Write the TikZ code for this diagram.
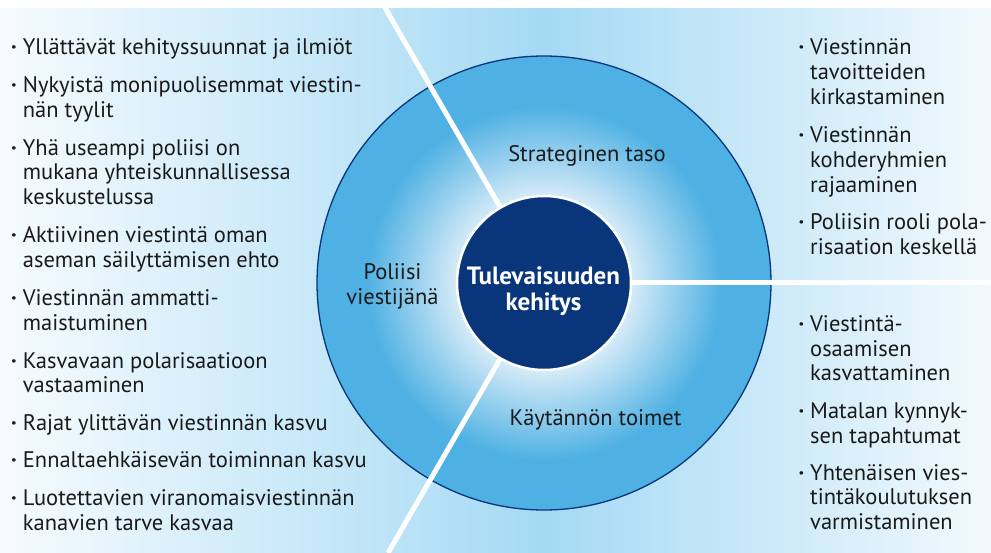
\documentclass[tikz,border=0pt]{standalone}
\usepackage{fontspec}
\setmainfont{PT Sans}
\definecolor{navy}{RGB}{9,54,122}
\definecolor{ringblue}{RGB}{79,177,227}
\definecolor{ringpale}{RGB}{214,235,248}
\definecolor{bgmid}{RGB}{165,218,244}
\definecolor{bgleft}{RGB}{246,251,254}
\definecolor{bgright}{RGB}{242,249,253}
\definecolor{ink}{RGB}{26,26,26}
\pgfdeclareradialshading{ringshade}{\pgfpoint{0bp}{0bp}}{color(0bp)=(white); color(9.6bp)=(ringpale); color(19.5bp)=(ringblue); color(25bp)=(ringblue); color(50bp)=(ringblue)}
\newcommand{\bul}{\llap{{\bfseries\textperiodcentered}\hskip 6pt}}
\begin{document}
\begin{tikzpicture}[x=1pt,y=-1pt,
  item/.style={anchor=base west, align=left, inner sep=0pt, text=ink, font=\fontsize{22.5}{24.5}\selectfont},
  itemr/.style={item, font=\fontsize{22.5}{25}\selectfont},
  ringlabel/.style={anchor=base, align=center, inner sep=0pt, text=ink, font=\fontsize{22.5}{24.5}\selectfont},
  corelabel/.style={anchor=base, align=center, inner sep=0pt, text=white, font=\bfseries\fontsize{25}{26}\selectfont},
  divider/.style={white, line width=5pt},
]
\useasboundingbox (0,0) rectangle (991,553);
\shade[left color=bgleft, right color=bgmid] (0,0) rectangle (544,553);
\shade[left color=bgmid, right color=bgright] (544,0) rectangle (991,553);
\fill[white] (0,0) rectangle (991,8.5);
\coordinate (c) at (544,283);
\coordinate (topend) at (380.5,0);
\coordinate (botend) at (388,553);
\coordinate (rightend) at (991,283);
\node[circle, minimum size=454pt, inner sep=0pt, shade, shading=ringshade, draw=navy, line width=1.3pt] (ring) at (c) {};
\node[circle, fill=navy, draw=white, line width=2.5pt, minimum size=174pt, inner sep=0pt] (core) at (c) {};
\draw[divider] (core) -- (topend);
\draw[divider] (core) -- (botend);
\draw[divider] (core) -- (rightend);
% multi-line nodes: base anchor = baseline of the last line
\node[corelabel] (coretext) at (543.5,310.5) {Tulevaisuuden\\kehitys};
\node[ringlabel] (strat) at (587,162) {Strateginen taso};
\node[ringlabel] (kayt) at (595.5,425.5) {Käytännön toimet};
\node[ringlabel] (pol) at (392.5,304.5) {Poliisi\\viestijänä};
% left column
\node[item] (l1) at (22.7,55) {\bul Yllättävät kehityssuunnat ja ilmiöt};
\node[item] (l2) at (22.7,117.5) {\bul Nykyistä monipuolisemmat viestin-\\nän tyylit};
\node[item] (l3) at (22.7,204.5) {\bul Yhä useampi poliisi on\\mukana yhteiskunnallisessa\\keskustelussa};
\node[item] (l4) at (22.7,267.5) {\bul Aktiivinen viestintä oman\\aseman säilyttämisen ehto};
\node[item] (l5) at (22.7,330.5) {\bul Viestinnän ammatti-\\maistuminen};
\node[item] (l6) at (22.7,392.5) {\bul Kasvavaan polarisaatioon\\vastaaminen};
\node[item] (l7) at (22.7,430) {\bul Rajat ylittävän viestinnän kasvu};
\node[item] (l8) at (22.7,467.5) {\bul Ennaltaehkäisevän toiminnan kasvu};
\node[item] (l9) at (22.7,530) {\bul Luotettavien viranomaisviestinnän\\kanavien tarve kasvaa};
% right top
\node[itemr] (r1) at (810,105) {\bul Viestinnän\\tavoitteiden\\kirkastaminen};
\node[itemr] (r2) at (810,193) {\bul Viestinnän\\kohderyhmien\\rajaaminen};
\node[itemr] (r3) at (810,255) {\bul Poliisin rooli pola-\\risaation keskellä};
% right bottom
\node[item] (r4) at (810,381) {\bul Viestintä-\\osaamisen\\kasvattaminen};
\node[item] (r5) at (810,443) {\bul Matalan kynnyk-\\sen tapahtumat};
\node[item] (r6) at (810,529) {\bul Yhtenäisen vies-\\tintäkoulutuksen\\varmistaminen};
\end{tikzpicture}
\end{document}
